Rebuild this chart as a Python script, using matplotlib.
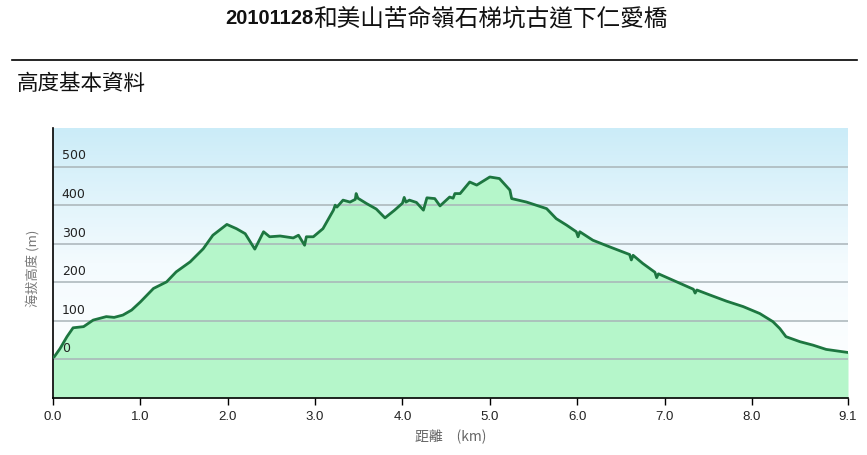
import numpy as np
import matplotlib
matplotlib.use('Agg')
import matplotlib.pyplot as plt
import matplotlib.transforms as mtransforms
from matplotlib.colors import LinearSegmentedColormap

plt.rcParams['font.family'] = ['DejaVu Sans', 'Noto Sans CJK TC']

# distance (km) and elevation (m)
dist = [0.0, 0.015, 0.08, 0.16, 0.23, 0.35, 0.46, 0.61, 0.7, 0.8, 0.9, 1.0,
        1.15, 1.30, 1.41, 1.57, 1.72, 1.83, 1.99, 2.10, 2.2, 2.31, 2.41,
        2.48, 2.6, 2.75, 2.81, 2.88, 2.90, 2.98, 3.09, 3.21, 3.23, 3.25,
        3.32, 3.40, 3.46, 3.47, 3.49, 3.59, 3.70, 3.80, 3.91, 4.0, 4.02,
        4.04, 4.08, 4.16, 4.24, 4.28, 4.37, 4.43, 4.54, 4.58, 4.60, 4.66,
        4.77, 4.85, 5.0, 5.11, 5.23, 5.25, 5.42, 5.65, 5.76, 5.88, 5.99,
        6.01, 6.03, 6.18, 6.37, 6.6, 6.62, 6.64, 6.75, 6.89, 6.91, 6.93,
        7.14, 7.33, 7.35, 7.37, 7.52, 7.71, 7.9, 8.09, 8.24, 8.32, 8.39,
        8.55, 8.7, 8.85, 9.1]
elev = [5, 7, 28, 59, 82, 85, 102, 111, 109, 115, 128, 149,
        184, 201, 227, 253, 287, 322, 350, 339, 326, 286, 331,
        318, 320, 315, 322, 296, 318, 318, 339, 387, 400, 395,
        413, 408, 415, 430, 418, 404, 390, 367, 387, 405, 420,
        408, 413, 407, 387, 419, 417, 398, 421, 418, 430, 430,
        460, 452, 473, 469, 439, 417, 408, 391, 365, 348, 331,
        318, 331, 309, 292, 272, 258, 270, 249, 226, 212, 222,
        201, 182, 172, 180, 167, 151, 137, 119, 98, 80,
        59, 46, 37, 26, 18]

yticks = [0, 100, 200, 300, 400, 500]
xticks = [0.0, 1.0, 2.0, 3.0, 4.0, 5.0, 6.0, 7.0, 8.0, 9.1]
xtick_labels = ['0.0', '1.0', '2.0', '3.0', '4.0', '5.0', '6.0', '7.0', '8.0', '9.1']

fig = plt.figure(figsize=(8.67, 4.55), dpi=100)
ax = fig.add_axes([53 / 867, 57 / 455, 795 / 867, 270 / 455])
ax.set_xlim(0, 9.1)
ax.set_ylim(-100, 600)

# sky gradient background
grad = np.linspace(0, 1, 256).reshape(-1, 1)
sky = LinearSegmentedColormap.from_list('sky', ['#ffffff', '#f4fbfe', '#cbecf8'])
ax.imshow(grad, cmap=sky, aspect='auto', extent=[0, 9.1, -100, 600],
          origin='lower', zorder=0)

ax.fill_between(dist, elev, -100, color='#b5f6ca', zorder=1, lw=0)
for v in yticks:
    ax.axhline(v, color='#a9b4b8', lw=1.1, zorder=2)
ax.plot(dist, elev, color='#1d7640', lw=2.0, zorder=3)

# y tick labels drawn inside the plot, above each grid line
off = mtransforms.offset_copy(ax.get_yaxis_transform(), fig=fig, x=0, y=3, units='points')
for v in yticks:
    ax.text(0.011, v, str(v), transform=off, fontsize=9, color='#222222',
            ha='left', va='bottom', family='DejaVu Sans')

ax.set_yticks([])
ax.set_xticks(xticks)
ax.set_xticklabels(xtick_labels, family='Liberation Sans', fontsize=9.5, color='#222222')
ax.tick_params(axis='x', length=5, width=1, pad=4)
for s in ['top', 'right']:
    ax.spines[s].set_visible(False)
ax.spines['left'].set_linewidth(1.2)
ax.spines['bottom'].set_linewidth(1.2)

ax.set_xlabel('距離　(km)', family=['Noto Sans CJK TC', 'DejaVu Sans'],
              fontsize=10, color='#666666', labelpad=5)
fig.text(33 / 867, 1 - 268 / 455, '海拔高度 (m)', rotation=90, ha='center', va='center',
         family=['Noto Sans CJK TC', 'DejaVu Sans'], fontsize=9.5, color='#777777')

# page headers
fig.text(313 / 867, 1 - 19 / 455, '20101128', ha='right', va='center',
         family='Liberation Sans', fontweight='bold', fontsize=14.5, color='#111111')
fig.text(313 / 867, 1 - 19 / 455, '和美山苦命嶺石梯坑古道下仁愛橋', ha='left', va='center',
         family='Noto Sans CJK TC', fontsize=17, color='#111111')
fig.add_artist(plt.Line2D([12 / 867, 857 / 867], [1 - 60 / 455, 1 - 60 / 455],
                          color='black', lw=1.2))
fig.text(17 / 867, 1 - 84 / 455, '高度基本資料', ha='left', va='center',
         family='Noto Sans CJK TC', fontsize=15.5, color='#111111')

plt.savefig('out.png', dpi=100)
